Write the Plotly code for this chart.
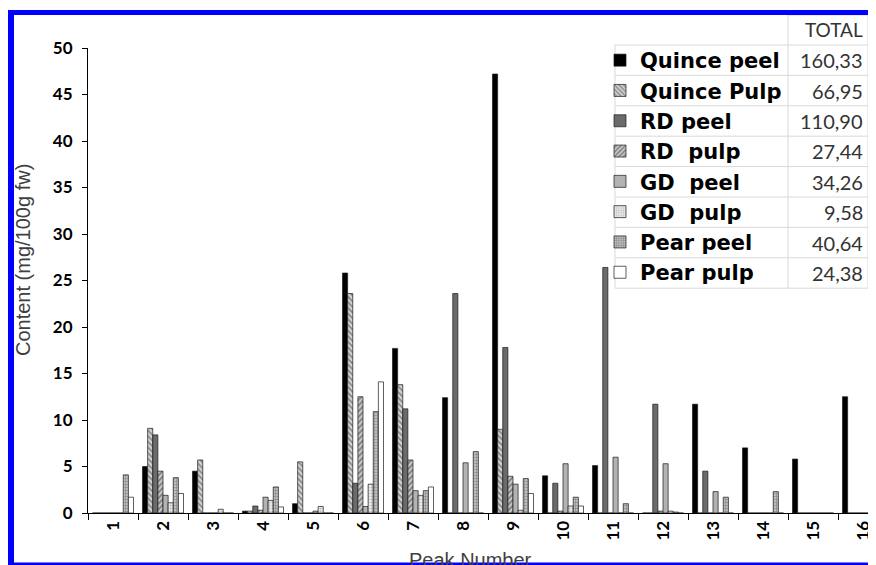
import plotly.graph_objects as go

# ---------------- data ----------------
peaks = [str(i) for i in range(1, 17)]
series_names = ["Quince peel", "Quince Pulp", "RD peel", "RD  pulp",
                "GD  peel", "GD  pulp", "Pear peel", "Pear pulp"]
quince_peel = [0, 5.0, 4.5, 0.2, 1.0, 25.8, 17.7, 12.4, 47.2, 4.0, 5.1, 0, 11.7, 7.0, 5.8, 12.5]
quince_pulp = [0, 9.1, 5.7, 0.2, 5.5, 23.6, 13.8, 0, 9.0, 0, 0, 0, 0, 0, 0, 0]
rd_peel = [0, 8.4, 0, 0.75, 0, 3.2, 11.2, 23.6, 17.8, 3.2, 26.4, 11.7, 4.5, 0, 0, 0]
rd_pulp = [0, 4.5, 0, 0.3, 0, 12.5, 5.7, 0, 3.95, 0.2, 0, 0.2, 0, 0, 0, 0]
gd_peel = [0, 1.9, 0, 1.7, 0.2, 0.7, 2.4, 5.4, 3.1, 5.3, 6.0, 5.3, 2.3, 0, 0, 0]
gd_pulp = [0, 1.1, 0.4, 1.35, 0.7, 3.1, 1.9, 0, 0.3, 0.75, 0, 0.2, 0, 0, 0, 0]
pear_peel = [4.1, 3.8, 0, 2.8, 0, 10.9, 2.4, 6.6, 3.7, 1.7, 1.0, 0.1, 1.7, 2.3, 0, 0]
pear_pulp = [1.7, 2.1, 0, 0.65, 0, 14.1, 2.8, 0, 2.1, 0.75, 0, 0, 0, 0, 0, 0]
totals = ["160,33", "66,95", "110,90", "27,44", "34,26", "9,58", "40,64", "24,38"]
y_ticks = [0, 5, 10, 15, 20, 25, 30, 35, 40, 45, 50]

all_values = [quince_peel, quince_pulp, rd_peel, rd_pulp, gd_peel, gd_pulp, pear_peel, pear_pulp]

# ---------------- styles ----------------
styles = [
    dict(color="#000000", pattern=None),
    dict(color="#d4d4d4", pattern=dict(shape="\\", fgcolor="#3a3a3a", bgcolor="#d4d4d4", size=4, solidity=0.45)),
    dict(color="#6b6b6b", pattern=None),
    dict(color="#cfcfcf", pattern=dict(shape="/", fgcolor="#2e2e2e", bgcolor="#cfcfcf", size=4, solidity=0.5)),
    dict(color="#b3b3b3", pattern=None),
    dict(color="#ececec", pattern=dict(shape=".", fgcolor="#8a8a8a", bgcolor="#ececec", size=3, solidity=0.4)),
    dict(color="#bdbdbd", pattern=dict(shape="+", fgcolor="#5a5a5a", bgcolor="#bdbdbd", size=3, solidity=0.4)),
    dict(color="#ffffff", pattern=None),
]

# the page body has an 8px margin, so the figure sits at (8, 8) in the window
OFF = 8
W_FIG, H_FIG = 876 - OFF, 565 - OFF
L, T, R, B = 88 - OFF, 48 - OFF, 0, 565 - 513
PW = W_FIG - L - R
PH = H_FIG - T - B
CAT_PX = 50.0


def px_x(px):
    """window x pixel -> paper x"""
    return (px - OFF - L) / PW


def px_y(py):
    """window y pixel -> paper y"""
    return (T + PH - (py - OFF)) / PH


fig = go.Figure()
for name, vals, st in zip(series_names, all_values, styles):
    marker = dict(color=st["color"], line=dict(color="#1a1a1a", width=0.7))
    if st["pattern"] is not None:
        marker["pattern"] = st["pattern"]
    fig.add_trace(go.Bar(name=name, x=peaks, y=vals, marker=marker))

shapes = []
# table grid for legend
grid_col = "#d9d9d9"
row_top = 45.0
row_h = 30.4
rows_y = [row_top + i * row_h for i in range(9)]
for yy in rows_y:
    shapes.append(dict(type="line", xref="paper", yref="paper",
                       x0=px_x(615), x1=px_x(868), y0=px_y(yy), y1=px_y(yy),
                       line=dict(color=grid_col, width=1)))
shapes.append(dict(type="line", xref="paper", yref="paper",
                   x0=px_x(788), x1=px_x(868), y0=px_y(15), y1=px_y(15),
                   line=dict(color=grid_col, width=1)))
for xx, ytop in [(615, row_top), (788, 15), (868, 15)]:
    shapes.append(dict(type="line", xref="paper", yref="paper",
                       x0=px_x(xx), x1=px_x(xx), y0=px_y(ytop), y1=px_y(rows_y[-1]),
                       line=dict(color=grid_col, width=1)))

# blue frame
blue = "#0000ff"
shapes.append(dict(type="rect", xref="paper", yref="paper", layer="above",
                   x0=px_x(8), x1=px_x(14), y0=px_y(10), y1=px_y(565),
                   fillcolor=blue, line=dict(width=0)))
shapes.append(dict(type="rect", xref="paper", yref="paper", layer="above",
                   x0=px_x(8), x1=px_x(874), y0=px_y(10), y1=px_y(15),
                   fillcolor=blue, line=dict(width=0)))
shapes.append(dict(type="rect", xref="paper", yref="paper", layer="above",
                   x0=px_x(8), x1=px_x(876), y0=px_y(562.5), y1=px_y(565),
                   fillcolor=blue, line=dict(width=0)))

annotations = []
annotations.append(dict(text="TOTAL", xref="paper", yref="paper",
                        x=px_x(865), y=px_y(30), xanchor="right", yanchor="middle",
                        showarrow=False, font=dict(family="Lato", size=19, color="#333333")))
for i, tot in enumerate(totals):
    annotations.append(dict(text=tot, xref="paper", yref="paper",
                            x=px_x(865), y=px_y(row_top + row_h * (i + 0.5)),
                            xanchor="right", yanchor="middle", showarrow=False,
                            font=dict(family="Lato", size=20, color="#333333")))
annotations.append(dict(text="Content (mg/100g fw)", xref="paper", yref="paper",
                        x=px_x(23), y=px_y(260), xanchor="center", yanchor="middle",
                        textangle=-90, showarrow=False,
                        font=dict(family="Liberation Sans", size=20, color="#404040")))
annotations.append(dict(text="Peak Number", xref="paper", yref="paper",
                        x=px_x(470), y=px_y(547), xanchor="center", yanchor="top",
                        showarrow=False,
                        font=dict(family="Liberation Sans", size=20, color="#404040")))

fig.update_layout(
    width=W_FIG, height=H_FIG,
    margin=dict(l=L, r=R, t=T, b=B, pad=0),
    paper_bgcolor="white", plot_bgcolor="white",
    barmode="group", bargap=0.18, bargroupgap=0,
    showlegend=True,
    legend=dict(x=px_x(600), y=px_y(40), xanchor="left", yanchor="top",
                font=dict(family="DejaVu Sans", size=21, color="black", weight="bold"),
                bgcolor="rgba(0,0,0,0)", borderwidth=0, itemwidth=30,
                traceorder="normal", itemclick=False),
    shapes=shapes,
    annotations=annotations,
    font=dict(family="Lato", color="black"),
)
fig.update_xaxes(
    type="category", range=[-0.5, -0.5 + PW / CAT_PX],
    showline=True, linecolor="black", linewidth=1,
    ticks="outside", tickson="boundaries", ticklen=6, tickcolor="black",
    tickangle=-90, tickfont=dict(family="Lato", size=17, color="black", weight="bold"),
    showgrid=False, zeroline=False,
)
fig.update_yaxes(
    range=[0, 50], tickvals=y_ticks,
    showline=True, linecolor="black", linewidth=1,
    ticks="outside", ticklen=5, tickcolor="black", ticklabelstandoff=6,
    tickfont=dict(family="Lato", size=17, color="black", weight="bold"),
    showgrid=False, zeroline=False,
)

fig.write_html("out.html")
